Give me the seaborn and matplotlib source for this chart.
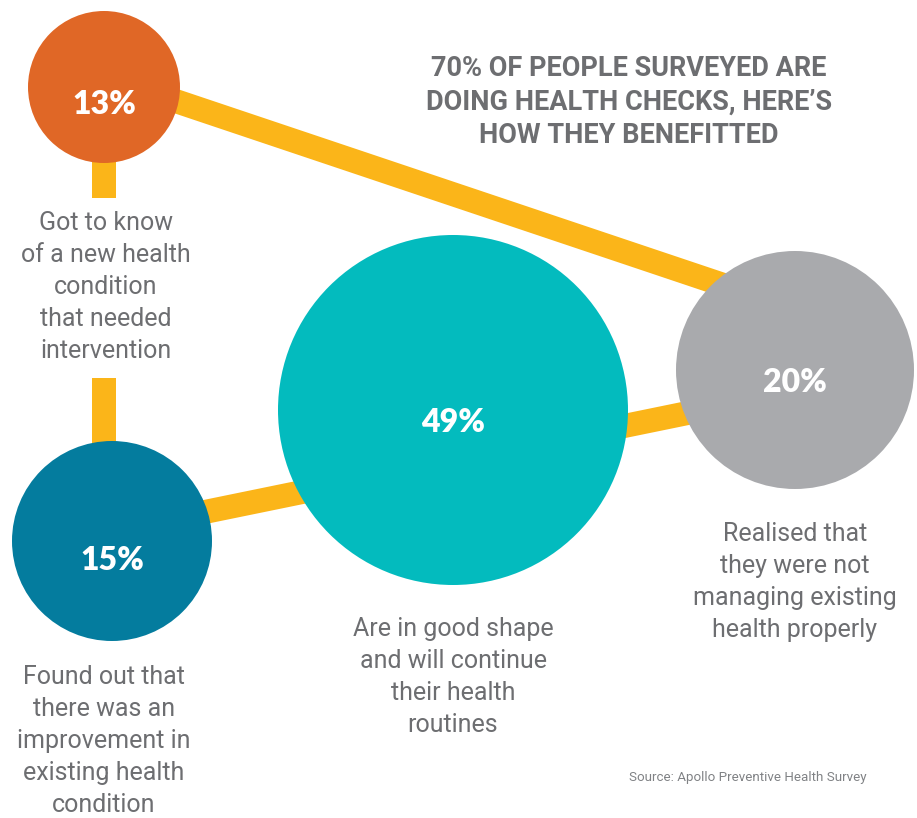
import matplotlib
matplotlib.use("Agg")
import matplotlib.pyplot as plt
import seaborn as sns
import pandas as pd

# ---- data ----
categories = ["new_condition", "improvement", "good_shape", "not_managing"]
percent_values = [13, 15, 49, 20]
descriptions = [
    "Got to know\nof a new health\ncondition\nthat needed\nintervention",
    "Found out that\nthere was an\nimprovement in\nexisting health\ncondition",
    "Are in good shape\nand will continue\ntheir health\nroutines",
    "Realised that\nthey were not\nmanaging existing\nhealth properly",
]
title_text = "70% OF PEOPLE SURVEYED ARE\nDOING HEALTH CHECKS, HERE\u2019S\nHOW THEY BENEFITTED"
source_text = "Source: Apollo Preventive Health Survey"

# ---- layout (pixel space, y downwards) ----
W, H, DPI = 917, 818, 100
centers_x = [104, 112, 453, 795]
centers_y = [87, 541, 410, 370]
radii_px = [76, 100, 175, 119]
colors = ["#E06726", "#047C9E", "#03BBBE", "#A9AAAD"]
pct_offset_y = [17, 19, 13, 12]
desc_x = [106, 104, 453, 795]
desc_y = [287, 741, 677, 582]
connectors = [((104, 77), (795, 309)),
              ((104, 87), (104, 198)),
              ((104, 378), (104, 541)),
              ((112, 531), (795, 391))]
yellow = "#FBB519"
text_grey = "#6D6E71"

df = pd.DataFrame({"category": categories, "value": percent_values,
                   "x": centers_x, "y": centers_y})
palette = dict(zip(categories, colors))
sizes = {c: (2 * r * 72 / DPI) ** 2 for c, r in zip(categories, radii_px)}

sns.set_theme(style="white")
plt.rcParams["font.family"] = ["Roboto", "DejaVu Sans"]

fig = plt.figure(figsize=(W / DPI, H / DPI), dpi=DPI)
ax = fig.add_axes([0, 0, 1, 1])

lw_pt = 24 * 72 / DPI
for (x0, y0), (x1, y1) in connectors:
    ax.plot([x0, x1], [y0, y1], color=yellow, lw=lw_pt,
            solid_capstyle="butt", zorder=1)

sns.scatterplot(data=df, x="x", y="y", hue="category", palette=palette,
                size="category", sizes=sizes, legend=False, linewidth=0,
                ax=ax, zorder=3)

for i, v in enumerate(percent_values):
    ax.text(centers_x[i], centers_y[i] + pct_offset_y[i], f"{v}%",
            ha="center", va="center", color="white", fontsize=23,
            fontweight="heavy", family=["Lato", "DejaVu Sans"], zorder=4)
    ax.text(desc_x[i], desc_y[i], descriptions[i], ha="center", va="center",
            color=text_grey, fontsize=18, fontweight="normal",
            linespacing=1.41, zorder=4)

ax.text(629, 102, title_text, ha="center", va="center", color=text_grey,
        fontsize=19.5, fontweight="bold", linespacing=1.3)
ax.text(629, 777, source_text, ha="left", va="center", color="#808285",
        fontsize=9.6)

ax.set_xlim(0, W)
ax.set_ylim(H, 0)
ax.axis("off")
fig.savefig("out.png", dpi=DPI, facecolor="white")
